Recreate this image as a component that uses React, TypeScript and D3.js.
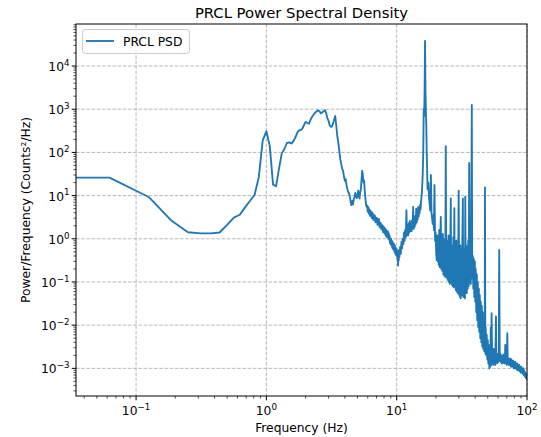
import React from 'react';
import * as d3 from 'd3';

const title = 'PRCL Power Spectral Density';
const xLabel = 'Frequency (Hz)';
const yLabel = 'Power/Frequency (Counts²/Hz)';
const seriesName = 'PRCL PSD';
const xTickExps = [-1, 0, 1, 2];
const yTickExps = [-3, -2, -1, 0, 1, 2, 3, 4];
const xLimits = [0.0346, 100];
const yLimits = [2.29e-4, 9.4e4];

// [frequency Hz, PSD counts^2/Hz]
const psdLow: [number, number][] = [
  [0, 26], [0.0625, 26], [0.125, 9.3], [0.1875, 2.6], [0.25, 1.42], [0.3125, 1.33], [0.375, 1.33],
  [0.4375, 1.4], [0.5, 2.1], [0.5625, 3.1], [0.625, 3.6], [0.6875, 5.4], [0.75, 7.6], [0.8125, 10.5],
  [0.875, 27], [0.9375, 190], [1.0, 310], [1.0625, 140], [1.125, 18], [1.1875, 16.5], [1.25, 42],
  [1.3125, 95], [1.375, 120], [1.4375, 165], [1.5, 170], [1.5625, 160], [1.625, 190], [1.6875, 240],
  [1.75, 310], [1.8125, 330], [1.875, 340], [1.9375, 420], [2.0, 510], [2.0625, 480], [2.125, 460],
  [2.1875, 580], [2.25, 680], [2.3125, 760], [2.375, 840], [2.4375, 900], [2.5, 950], [2.5625, 880],
  [2.625, 800], [2.6875, 850], [2.75, 900], [2.8125, 950], [2.875, 820], [2.9375, 620], [3.0, 540],
  [3.0625, 420], [3.125, 390], [3.1875, 400], [3.25, 470], [3.3125, 580], [3.375, 700], [3.4375, 420],
  [3.5, 240], [3.5625, 170], [3.625, 110], [3.6875, 70], [3.75, 55], [3.8125, 42], [3.875, 38],
  [3.9375, 28], [4.0, 22], [4.0625, 24], [4.125, 17], [4.1875, 14], [4.25, 12], [4.3125, 11],
  [4.375, 9.5], [4.4375, 7.0], [4.5, 6.0], [4.5625, 7.5], [4.625, 6.3], [4.6875, 8.5], [4.75, 9.0],
  [4.8125, 11.5], [4.875, 10], [4.9375, 8.8], [5.0, 9.5], [5.0625, 13], [5.125, 10.5], [5.1875, 8.5],
  [5.25, 12], [5.3125, 14], [5.375, 24], [5.4375, 38], [5.5, 30], [5.5625, 20], [5.625, 22],
  [5.6875, 13], [5.75, 9.0], [5.8125, 6.2], [5.875, 5.5], [5.9375, 5.8],
];

const psdMid: [number, number][] = [
  [6.0, 4.2], [6.0625, 5.4], [6.125, 3.8], [6.1875, 4.8], [6.25, 3.4], [6.3125, 4.4], [6.375, 3.6],
  [6.4375, 3.0], [6.5, 4.1], [6.5625, 3.2], [6.625, 2.7], [6.6875, 3.6], [6.75, 2.9], [6.8125, 3.4],
  [6.875, 2.4], [6.9375, 3.1], [7.0, 2.6], [7.0625, 3.0], [7.125, 2.1], [7.1875, 2.7], [7.25, 2.3],
  [7.3125, 2.9], [7.375, 1.9], [7.4375, 2.4], [7.5, 1.8], [7.5625, 2.3], [7.625, 1.7], [7.6875, 2.1],
  [7.75, 1.6], [7.8125, 2.0], [7.875, 1.4], [7.9375, 1.9], [8.0, 1.5], [8.0625, 1.8], [8.125, 1.3],
  [8.1875, 1.7], [8.25, 1.2], [8.3125, 1.6], [8.375, 1.1], [8.4375, 1.45], [8.5, 1.2], [8.5625, 1.5],
  [8.625, 1.0], [8.6875, 1.35], [8.75, 0.95], [8.8125, 1.2], [8.875, 0.8], [8.9375, 1.05], [9.0, 0.75],
  [9.0625, 1.0], [9.125, 0.7], [9.1875, 0.9], [9.25, 0.62], [9.3125, 0.85], [9.375, 0.58], [9.4375, 0.78],
  [9.5, 0.55], [9.5625, 0.75], [9.625, 0.5], [9.6875, 0.7], [9.75, 0.45], [9.8125, 0.62], [9.875, 0.42],
  [9.9375, 0.6], [10.0, 0.4], [10.0625, 0.55], [10.125, 0.35], [10.1875, 0.5], [10.25, 0.24],
  [10.3125, 0.45], [10.375, 0.32], [10.4375, 0.55], [10.5, 0.38], [10.625, 0.65], [10.75, 0.45],
  [10.875, 0.85], [11.0, 0.6], [11.125, 1.0], [11.25, 0.75], [11.375, 1.4], [11.5, 0.9], [11.625, 1.6],
  [11.75, 1.1], [11.875, 4.6], [12.0, 1.2], [12.125, 2.1], [12.25, 1.2], [12.375, 2.3], [12.5, 1.4],
  [12.625, 2.6], [12.75, 1.5], [12.875, 2.2], [13.0, 1.5], [13.125, 2.7], [13.25, 1.7], [13.375, 5.5],
  [13.5, 1.7], [13.625, 3.0], [13.75, 1.9], [13.875, 3.4], [14.0, 2.2], [14.125, 5.0], [14.25, 2.4],
  [14.375, 4.2], [14.5, 2.8], [14.625, 5.5], [14.75, 3.3], [14.875, 5.0], [15.0, 3.9], [15.125, 6.2],
  [15.25, 4.8], [15.375, 7.2], [15.5, 9], [15.625, 13], [15.75, 20], [15.875, 40], [16.0, 120],
  [16.125, 1000], [16.25, 700], [16.375, 2500], [16.5, 38000], [16.625, 3000], [16.75, 900],
  [16.875, 430], [17.0, 100], [17.125, 40], [17.25, 14], [17.5, 20], [17.7, 9], [17.9, 6.6],
  [18.1, 4.5], [18.3, 30], [18.5, 4], [18.7, 3.0], [18.9, 2.2], [19.1, 3.5], [19.3, 1.6],
  [19.5, 17.5], [19.7, 0.9], [19.9, 1.4], [20.1, 0.45], [20.3, 0.32],
];

const psdHigh: [number, number][] = [
  [20.5, 1.2], [20.7, 0.3], [20.9, 0.9], [21.0, 0.25], [21.2, 1.6], [21.4, 0.22], [21.6, 1.1],
  [21.8, 3.2], [22.0, 0.2], [22.2, 0.8], [22.4, 0.18], [22.6, 1.3], [22.8, 0.15], [23.0, 0.7],
  [23.2, 0.14], [23.4, 1.0], [23.6, 0.13], [23.8, 140], [24.0, 0.3], [24.2, 0.9], [24.4, 0.12],
  [24.6, 0.6], [24.8, 0.11], [25.0, 1.2], [25.2, 0.1], [25.4, 0.5], [25.6, 0.09], [25.8, 0.8],
  [26.0, 8.6], [26.2, 0.1], [26.4, 0.7], [26.6, 0.085], [26.8, 0.5], [27.0, 0.08], [27.2, 1.1],
  [27.4, 0.075], [27.7, 5.1], [27.9, 0.08], [28.2, 0.6], [28.4, 0.065], [28.7, 0.9], [28.9, 0.06],
  [29.2, 0.45], [29.4, 0.055], [29.7, 0.8], [29.9, 13], [30.2, 0.05], [30.4, 0.5], [30.6, 0.045],
  [30.8, 0.7], [31.0, 0.042], [31.3, 0.4], [31.6, 0.05], [31.9, 0.9], [32.2, 8.6], [32.4, 0.045],
  [32.6, 0.6], [32.9, 0.05], [33.1, 0.5], [33.4, 0.042], [33.6, 9.4], [33.9, 0.06], [34.2, 0.7],
  [34.5, 0.055], [34.8, 0.5], [35.1, 0.07], [35.4, 0.9], [35.7, 0.08], [36.0, 57], [36.4, 0.1],
  [36.7, 0.8], [37.0, 0.09], [37.3, 0.6], [37.7, 1250], [38.0, 0.12], [38.4, 0.4], [38.7, 0.07],
  [39.0, 0.35], [39.4, 0.045], [39.8, 0.3], [40.1, 0.035], [40.4, 0.2], [40.8, 0.02], [41.2, 0.15],
  [41.5, 0.013], [41.9, 0.1], [42.3, 0.009], [42.7, 0.07], [43.0, 0.007], [43.4, 0.05],
  [43.8, 0.005], [44.2, 0.035], [44.6, 0.004], [45.0, 0.028], [45.4, 0.0032], [45.8, 0.02],
  [46.2, 0.0028], [46.6, 0.015], [47.0, 0.0025], [47.4, 0.011], [47.6, 15.5], [47.9, 0.0022],
  [48.2, 0.009], [48.7, 0.002], [49.1, 0.006], [49.6, 0.0016], [50.0, 0.0045], [50.5, 0.0013],
  [50.9, 0.0035], [51.4, 0.001], [51.8, 0.0025], [52.3, 0.0011], [52.7, 0.009], [53.2, 0.0012],
  [53.5, 0.019], [54.1, 0.0013], [54.6, 0.0022], [55.1, 0.0012], [55.6, 0.0028], [56.1, 0.0013],
  [56.6, 0.002], [57.1, 0.0012], [57.8, 0.016], [58.1, 0.0014], [58.6, 0.0022], [59.1, 0.0013],
  [59.7, 0.002], [60.2, 0.0014], [60.7, 0.0025], [61.2, 0.55], [61.8, 0.0015], [62.4, 0.0022],
  [62.9, 0.0014], [63.5, 0.002], [64.0, 0.0013], [64.6, 0.0019], [65.2, 0.0013], [65.8, 0.0021],
  [66.3, 0.0014], [66.9, 0.0018], [67.5, 0.0013], [68.1, 0.0035], [68.7, 0.0013], [69.3, 0.0018],
  [69.9, 0.0012], [70.6, 0.0065], [71.2, 0.0013], [71.8, 0.0017], [72.5, 0.0012], [73.1, 0.0016],
  [73.8, 0.0012], [74.4, 0.0017], [75.1, 0.0011], [75.7, 0.0016], [76.4, 0.0011], [77.1, 0.0015],
  [77.8, 0.0011], [78.5, 0.0015], [79.1, 0.001], [79.9, 0.0014], [80.6, 0.001], [81.3, 0.0014],
  [82.0, 0.001], [82.7, 0.0013], [83.5, 0.00095], [84.2, 0.0013], [84.9, 0.0009], [85.7, 0.0012],
  [86.5, 0.0009], [87.2, 0.0012], [88.0, 0.00085], [88.8, 0.0011], [89.6, 0.0008], [90.4, 0.0011],
  [91.2, 0.0008], [92.0, 0.001], [92.8, 0.00075], [93.6, 0.001], [94.4, 0.0007], [95.3, 0.0009],
  [96.1, 0.00065], [97.0, 0.0008], [97.8, 0.0006], [98.7, 0.00075], [99.5, 0.00058], [100, 0.0006],
];

const W = 541;
const H = 437;
const M = { left: 76, right: 527, top: 24, bottom: 396 };
const FONT = 'DejaVu Sans, Verdana, sans-serif';
const BLUE = '#1f77b4';
const FS = 12.3;

function SupLabel({ x, y, exp, anchor }: { x: number; y: number; exp: number; anchor: string }) {
  const e = exp < 0 ? '\u2212' + Math.abs(exp) : String(exp);
  return (
    <text x={x} y={y} textAnchor={anchor} fontSize={FS} fontFamily={FONT} fill="#000">
      <tspan>10</tspan>
      <tspan dy={-5.2} fontSize={8.7}>{e}</tspan>
    </text>
  );
}

export default function App() {
  const x = d3.scaleLog().domain(xLimits).range([M.left, M.right]);
  const y = d3.scaleLog().domain(yLimits).range([M.bottom, M.top]);
  const data = [...psdLow, ...psdMid, ...psdHigh];
  const line = d3
    .line<[number, number]>()
    .x((d) => x(d[0] > 0 ? d[0] : 1e-300))
    .y((d) => y(d[1]));

  const xMinor: number[] = [];
  for (let e = -2; e <= 1; e++) for (let m = 2; m <= 9; m++) {
    const v = m * Math.pow(10, e);
    if (v >= xLimits[0] && v <= xLimits[1]) xMinor.push(v);
  }
  const yMinor: number[] = [];
  for (let e = -4; e <= 4; e++) for (let m = 2; m <= 9; m++) {
    const v = m * Math.pow(10, e);
    if (v >= yLimits[0] && v <= yLimits[1]) yMinor.push(v);
  }

  return (
    <svg width={W} height={H} style={{ position: 'absolute', left: 0, top: 0, background: '#fff' }}>
      <defs>
        <clipPath id="plotclip">
          <rect x={M.left} y={M.top} width={M.right - M.left} height={M.bottom - M.top} />
        </clipPath>
      </defs>
      <rect x={0} y={0} width={W} height={H} fill="#fff" />
      <g stroke="#b0b0b0" strokeWidth={0.9} strokeDasharray="3.6,1.6">
        {xTickExps.map((e) => (
          <line key={'gx' + e} x1={x(Math.pow(10, e))} x2={x(Math.pow(10, e))} y1={M.top} y2={M.bottom} />
        ))}
        {yTickExps.map((e) => (
          <line key={'gy' + e} x1={M.left} x2={M.right} y1={y(Math.pow(10, e))} y2={y(Math.pow(10, e))} />
        ))}
      </g>
      <g clipPath="url(#plotclip)">
        <path d={line(data) || ''} fill="none" stroke={BLUE} strokeWidth={1.85} strokeLinejoin="round" strokeLinecap="square" />
      </g>
      <rect x={M.left} y={M.top} width={M.right - M.left} height={M.bottom - M.top} fill="none" stroke="#000" strokeWidth={1} />
      <g stroke="#000" strokeWidth={1}>
        {xTickExps.map((e) => (
          <line key={'tx' + e} x1={x(Math.pow(10, e))} x2={x(Math.pow(10, e))} y1={M.bottom} y2={M.bottom + 4.3} />
        ))}
        {xMinor.map((v) => (
          <line key={'mx' + v} x1={x(v)} x2={x(v)} y1={M.bottom} y2={M.bottom + 2.5} strokeWidth={0.7} />
        ))}
        {yTickExps.map((e) => (
          <line key={'ty' + e} x1={M.left - 4.3} x2={M.left} y1={y(Math.pow(10, e))} y2={y(Math.pow(10, e))} />
        ))}
        {yMinor.map((v) => (
          <line key={'my' + v} x1={M.left - 2.5} x2={M.left} y1={y(v)} y2={y(v)} strokeWidth={0.7} />
        ))}
      </g>
      {xTickExps.map((e) => (
        <SupLabel key={'lx' + e} x={x(Math.pow(10, e))} y={M.bottom + 19} exp={e} anchor="middle" />
      ))}
      {yTickExps.map((e) => (
        <SupLabel key={'ly' + e} x={M.left - 6.5} y={y(Math.pow(10, e)) + 5} exp={e} anchor="end" />
      ))}
      <text x={(M.left + M.right) / 2} y={18} textAnchor="middle" fontSize={14.8} fontFamily={FONT} fill="#000">
        {title}
      </text>
      <text x={(M.left + M.right) / 2} y={432} textAnchor="middle" fontSize={FS} fontFamily={FONT} fill="#000">
        {xLabel}
      </text>
      <text
        transform={`translate(30, ${(M.top + M.bottom) / 2}) rotate(-90)`}
        textAnchor="middle"
        fontSize={FS}
        fontFamily={FONT}
        fill="#000"
      >
        {yLabel}
      </text>
      <g>
        <rect x={82.5} y={29.5} width={107} height={24} rx={3} fill="#fff" fillOpacity={0.8} stroke="#cccccc" strokeWidth={1} />
        <line x1={86} x2={114} y1={41} y2={41} stroke={BLUE} strokeWidth={1.85} />
        <text x={123} y={45.5} fontSize={FS} fontFamily={FONT} fill="#000">
          {seriesName}
        </text>
      </g>
    </svg>
  );
}
